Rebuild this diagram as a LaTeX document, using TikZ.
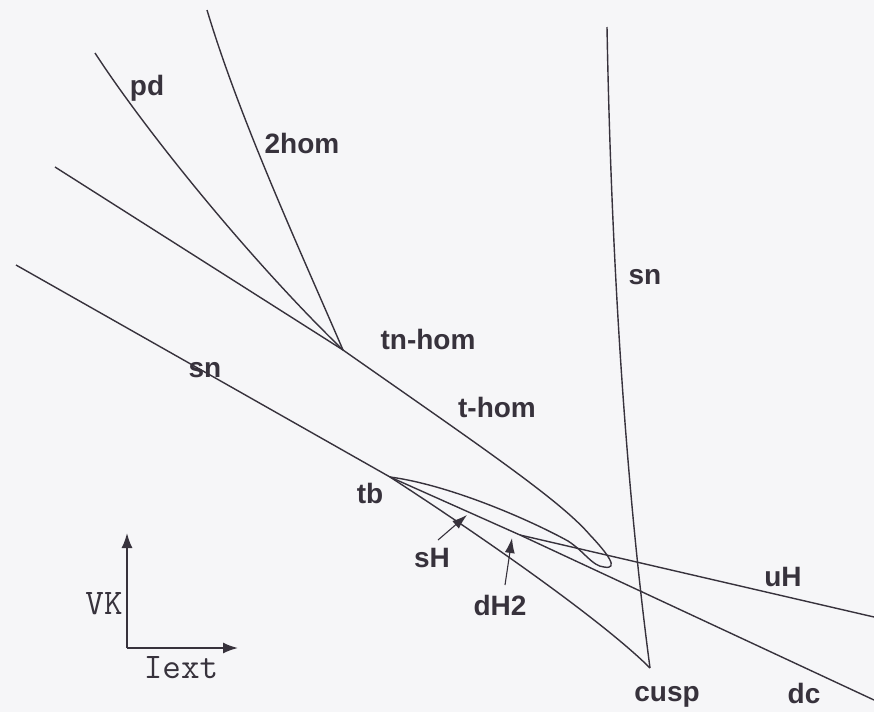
\documentclass[tikz,border=0pt]{standalone}
\usepackage{fontspec}
\setmainfont{Liberation Sans}
\usetikzlibrary{arrows.meta}
\definecolor{ink}{RGB}{55,50,60}
\definecolor{paper}{RGB}{246,246,248}

\begin{document}
\begin{tikzpicture}[x=1pt,y=-1pt,line width=1.4pt,color=ink,
  every node/.style={font=\bfseries\fontsize{28}{30}\selectfont,inner sep=0pt},
  axlabel/.style={font=\ttfamily\fontsize{36}{38}\selectfont},
  axis/.style={-{Latex[length=15pt,width=11pt]},line width=1.7pt},
  pointer/.style={-{Latex[length=15pt,width=10pt]},line width=1.1pt}]
  \fill[paper] (0,0) rectangle (874,712);
  \useasboundingbox (0,0) rectangle (874,712);

  % Special points of the diagram and the free ends of the curves.
  \coordinate (TB) at (390,477); \coordinate (GH) at (520,535);
  \coordinate (CP) at (650,668); \coordinate (TN) at (343,350);
  \coordinate (SNL) at (16,265); \coordinate (SNT) at (607,27);
  \coordinate (HL) at (55,167); \coordinate (PD) at (95,53);
  \coordinate (HH) at (207,10); \coordinate (UHE) at (874,617);
  \coordinate (DCE) at (874,700);

  \draw (SNL)--(TB) .. controls (510,555) and (610,628) .. (CP);
  \draw (SNT) .. controls (611,250) and (625,480) .. (CP);
  \draw (TB)--(GH)--(UHE);
  \draw (GH)--(DCE);
  \draw (HL)--(TN) .. controls (480,446) and (560,500) .. (590,535)
    .. controls (607,553) and (620,570) .. (604,567)
    .. controls (592,566) and (585,552) .. (568,541)
    .. controls (530,520) and (450,485) .. (TB);
  \draw (PD) .. controls (145,130) and (250,260) .. (TN);
  \draw (HH) .. controls (240,120) and (300,250) .. (TN);

  \node (lpd) at (147,88) {pd};
  \node (l2hom) at (302,143) {2hom};
  \node (ltn) at (428,339) {tn-hom};
  \node (lth) at (497,407) {t-hom};
  \node (lsnl) at (205,370) {sn};
  \node (lsnr) at (645,277) {sn};
  \node (ltb) at (370,493) {tb};
  \node (lsh) at (432,558) {sH};
  \node (ldh) at (500,605) {dH2};
  \node (luh) at (783,577) {uH};
  \node (lcusp) at (667,697) {cusp};
  \node (ldc) at (804,693) {dc};

  \coordinate (sHtail) at (438,540); \coordinate (sHtip) at (467,515);
  \coordinate (dHtail) at (505,585); \coordinate (dHtip) at (512,538);
  \draw[pointer] (sHtail)--(sHtip);
  \draw[pointer] (dHtail)--(dHtip);

  % Axes of the parameter plane
  \coordinate (O) at (127,648); \coordinate (VY) at (127,533);
  \coordinate (IX) at (238,648);
  \draw[axis] (O)--(VY);
  \draw[axis] (O)--(IX);
  \node[axlabel] (lvk) at (104,604) {VK};
  \node[axlabel] (liext) at (181,668) {Iext};
\end{tikzpicture}
\end{document}
